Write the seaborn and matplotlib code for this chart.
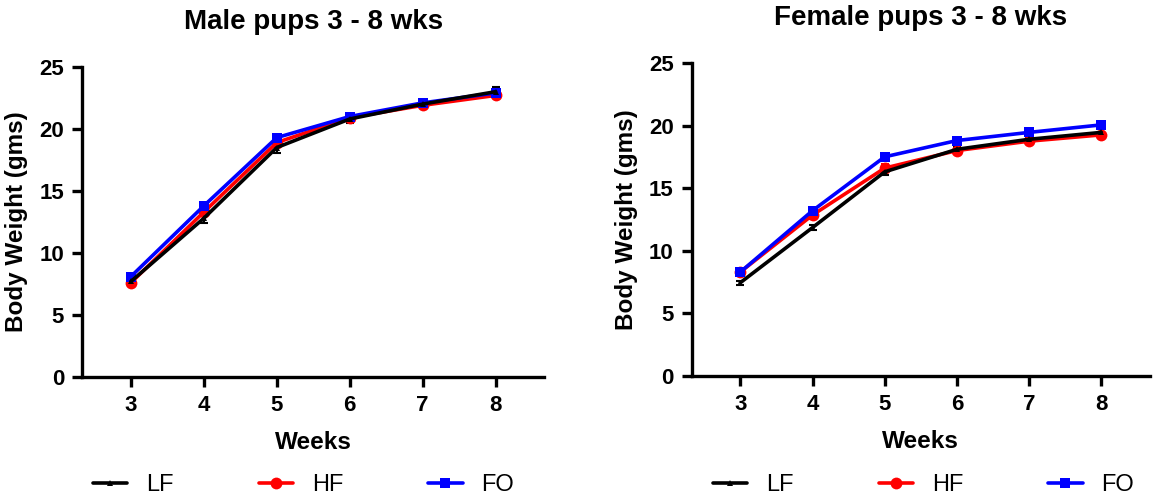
import numpy as np
import pandas as pd
import matplotlib.pyplot as plt
import seaborn as sns

# ---- data ----
weeks = [3, 4, 5, 6, 7, 8]
groups = ['LF', 'HF', 'FO']

male_lf = [7.7, 12.8, 18.5, 20.8, 22.0, 23.0]
male_hf = [7.6, 13.3, 18.9, 20.9, 21.9, 22.7]
male_fo = [8.1, 13.8, 19.3, 21.0, 22.1, 22.9]
male_lf_sem = [0.2, 0.4, 0.45, 0.3, 0.2, 0.35]
male_hf_sem = [0.15, 0.3, 0.3, 0.2, 0.25, 0.2]
male_fo_sem = [0.15, 0.2, 0.15, 0.15, 0.15, 0.2]

female_lf = [7.45, 11.85, 16.3, 18.1, 18.9, 19.45]
female_hf = [8.3, 12.85, 16.6, 18.0, 18.75, 19.25]
female_fo = [8.3, 13.2, 17.5, 18.8, 19.45, 20.05]
female_lf_sem = [0.15, 0.2, 0.25, 0.2, 0.2, 0.25]
female_hf_sem = [0.15, 0.3, 0.3, 0.2, 0.2, 0.2]
female_fo_sem = [0.1, 0.15, 0.15, 0.15, 0.15, 0.15]

colors = {'LF': 'black', 'HF': 'red', 'FO': 'blue'}
markers = {'LF': '^', 'HF': 'o', 'FO': 's'}
msizes = {'LF': 4.5, 'HF': 8.5, 'FO': 6.5}
draw_order = ['HF', 'FO', 'LF']

sns.set_theme(style='ticks')
plt.rcParams['font.family'] = ['Liberation Sans', 'DejaVu Sans']
plt.rcParams['text.color'] = 'black'
plt.rcParams['axes.labelcolor'] = 'black'
plt.rcParams['xtick.color'] = 'black'
plt.rcParams['ytick.color'] = 'black'

fig = plt.figure(figsize=(11.59, 5.01), dpi=100)
ax1 = fig.add_axes([0.0708, 0.2475, 0.399, 0.619])
ax2 = fig.add_axes([0.597, 0.2495, 0.395, 0.625])

panels = [
    (ax1, 'Male pups 3 - 8 wks',
     {'LF': (male_lf, male_lf_sem), 'HF': (male_hf, male_hf_sem), 'FO': (male_fo, male_fo_sem)},
     (0.262, 0.031)),
    (ax2, 'Female pups 3 - 8 wks',
     {'LF': (female_lf, female_lf_sem), 'HF': (female_hf, female_hf_sem), 'FO': (female_fo, female_fo_sem)},
     (0.797, 0.031)),
]

for ax, title, series, leg_pos in panels:
    for g in draw_order:
        vals, sem = series[g]
        df = pd.DataFrame({'Weeks': weeks, 'Weight': vals})
        ax.errorbar(weeks, vals, yerr=sem, fmt='none', ecolor=colors[g],
                    elinewidth=1.5, capsize=3, capthick=1.5, zorder=2)
        sns.lineplot(data=df, x='Weeks', y='Weight', ax=ax, color=colors[g],
                     marker=markers[g], markersize=msizes[g], markeredgewidth=0,
                     linewidth=2.6, label=g, zorder=3)

    ax.set_xlim(2.33, 8.67)
    ax.set_ylim(0, 25)
    ax.set_xticks(weeks)
    ax.set_yticks([0, 5, 10, 15, 20, 25])
    sns.despine(ax=ax)
    for side in ['left', 'bottom']:
        ax.spines[side].set_linewidth(2.4)
        ax.spines[side].set_color('black')
    ax.tick_params(axis='both', width=2.4, length=7, color='black',
                   labelsize=16, pad=6)
    for lab in ax.get_xticklabels() + ax.get_yticklabels():
        lab.set_fontweight('bold')
    ax.set_xlabel('Weeks', fontsize=17.5, fontweight='bold', labelpad=11)
    ax.set_ylabel('Body Weight (gms)', fontsize=17.5, fontweight='bold', labelpad=8)
    ax.set_title(title, fontsize=20, fontweight='bold', pad=27)

    handles, labels = ax.get_legend_handles_labels()
    hmap = dict(zip(labels, handles))
    ax.legend([hmap[g] for g in groups], groups, loc='center',
              bbox_to_anchor=leg_pos, bbox_transform=fig.transFigure,
              ncol=3, frameon=False, fontsize=17, handlelength=1.45,
              handletextpad=0.8, columnspacing=3.6)

fig.savefig('out.png', dpi=100)
